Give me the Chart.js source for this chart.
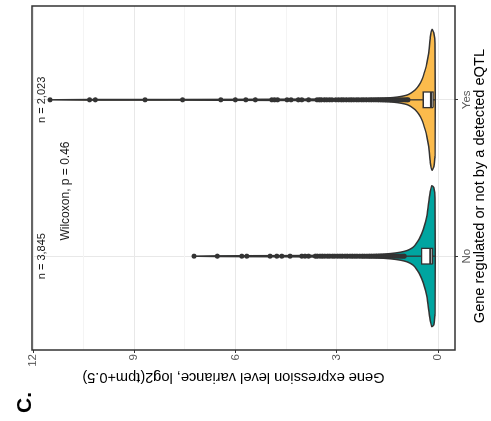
<!DOCTYPE html>
<html>
<head>
<meta charset="utf-8">
<script src="https://cdn.jsdelivr.net/npm/chart.js@4.4.1/dist/chart.umd.min.js"></script>
<style>
  html, body { margin: 0; padding: 0; background: #fff; }
  body { width: 491px; height: 421px; overflow: hidden; position: relative; }
  /* the figure is printed turned a quarter turn counter-clockwise */
  #wrap { position: absolute; left: 35px; top: -35px; width: 421px; height: 491px; transform: rotate(-90deg); }
</style>
</head>
<body>
<div id="wrap"><canvas id="chart" width="421" height="491"></canvas></div>
<script>
const groups = ["No", "Yes"];
const groupCounts = ["n = 3,845", "n = 2,023"];
const groupColors = ["#00A5A0", "#FBBB4C"];
const valueTicks = [0, 1.5, 3, 4.5, 6, 7.5, 9, 10.5, 12];
const testLabel = "Wilcoxon, p = 0.46";

// violin outline: value -> half width (group units)
const violinValuesNo = [0.09, 0.13, 0.19, 0.25, 0.33, 0.44, 0.56, 0.65, 0.74, 0.83, 0.92, 1.1, 1.4, 1.8, 2.4, 3.2, 4.2, 5.5, 6.6, 7.23];
const violinHalfNo = [0.37, 0.44, 0.45, 0.39, 0.26, 0.17, 0.11, 0.08, 0.058, 0.045, 0.036, 0.026, 0.017, 0.011, 0.008, 0.006, 0.004, 0.003, 0.002, 0];
const violinValuesYes = [0.09, 0.13, 0.18, 0.23, 0.28, 0.33, 0.385, 0.48, 0.58, 0.68, 0.79, 0.89, 1.0, 1.2, 1.5, 2.0, 2.6, 3.4, 4.5, 6.0, 8.0, 10.3, 11.5];
const violinHalfYes = [0.36, 0.43, 0.45, 0.40, 0.30, 0.24, 0.19, 0.128, 0.09, 0.064, 0.045, 0.033, 0.026, 0.018, 0.012, 0.008, 0.006, 0.005, 0.004, 0.003, 0.002, 0.002, 0];

// box stats: lower whisker, q1, median, q3, upper whisker
const boxNo = [0.09, 0.16, 0.23, 0.49, 0.98];
const boxYes = [0.09, 0.15, 0.21, 0.44, 0.87];

const outliersNo = [7.23, 6.54, 5.82, 5.67, 4.98, 4.78, 4.63, 4.39, 4.04, 3.94, 3.84, 3.64, 3.58, 3.50, 3.43, 3.36, 3.28, 3.21, 3.13, 3.06, 2.98, 2.91, 2.84, 2.76, 2.69, 2.61, 2.54, 2.47, 2.40, 2.32, 2.25, 2.18, 2.11, 2.04, 1.97, 1.90, 1.83, 1.76, 1.69, 1.62, 1.55, 1.48, 1.42, 1.35, 1.29, 1.22, 1.16, 1.10, 1.05, 1.00];
const outliersYes = [11.50, 10.33, 10.16, 8.68, 7.57, 6.44, 6.01, 5.70, 5.42, 4.93, 4.85, 4.76, 4.48, 4.36, 4.14, 4.04, 3.84, 3.59, 3.52, 3.46, 3.37, 3.30, 3.22, 3.14, 3.03, 2.95, 2.87, 2.80, 2.72, 2.64, 2.57, 2.50, 2.42, 2.35, 2.27, 2.20, 2.13, 2.05, 1.98, 1.91, 1.84, 1.77, 1.70, 1.63, 1.56, 1.49, 1.42, 1.35, 1.29, 1.22, 1.16, 1.10, 1.04, 0.98, 0.93, 0.89];

const FONT = "'Liberation Sans', Arial, Helvetica, sans-serif";
const INK = "#333333";
const BOX_HALF = 0.05;

function violinPoints(center, values, half) {
  const left = values.map((v, i) => ({ x: center - half[i], y: v }));
  const right = values.map((v, i) => ({ x: center + half[i], y: v })).reverse();
  return [...left, ...right, left[0]];
}

function boxPoints(center, stats) {
  const q1 = stats[1];
  const q3 = stats[3];
  return [
    { x: center - BOX_HALF, y: q1 },
    { x: center + BOX_HALF, y: q1 },
    { x: center + BOX_HALF, y: q3 },
    { x: center - BOX_HALF, y: q3 },
    { x: center - BOX_HALF, y: q1 },
  ];
}

function segment(data, width, order) {
  return {
    data,
    showLine: true,
    borderColor: INK,
    borderWidth: width,
    pointRadius: 0,
    fill: false,
    order,
  };
}

function groupDatasets(index, values, half, stats, outliers) {
  const center = index + 1;
  return [
    {
      data: violinPoints(center, values, half),
      showLine: true,
      fill: "shape",
      backgroundColor: groupColors[index],
      borderColor: INK,
      borderWidth: 1.5,
      tension: 0.2,
      pointRadius: 0,
      order: 5,
    },
    segment([{ x: center, y: stats[0] }, { x: center, y: stats[1] }], 1.3, 4),
    segment([{ x: center, y: stats[3] }, { x: center, y: stats[4] }], 1.3, 4),
    {
      data: boxPoints(center, stats),
      showLine: true,
      fill: "shape",
      backgroundColor: "#ffffff",
      borderColor: INK,
      borderWidth: 1.3,
      tension: 0,
      pointRadius: 0,
      order: 2,
    },
    segment([{ x: center - BOX_HALF, y: stats[2] }, { x: center + BOX_HALF, y: stats[2] }], 2.2, 1),
    {
      data: outliers.map((v) => ({ x: center, y: v })),
      showLine: false,
      pointRadius: 2.5,
      pointBackgroundColor: INK,
      pointBorderWidth: 0,
      order: 3,
    },
  ];
}

const panelBorder = {
  id: "panelBorder",
  afterDatasetsDraw(chart) {
    const { ctx, chartArea: a } = chart;
    ctx.save();
    ctx.strokeStyle = INK;
    ctx.lineWidth = 1.5;
    ctx.strokeRect(a.left, a.top, a.right - a.left, a.bottom - a.top);
    ctx.restore();
  },
};

const annotations = {
  id: "annotations",
  afterDatasetsDraw(chart) {
    const { ctx, scales } = chart;
    ctx.save();
    ctx.fillStyle = "#1a1a1a";
    ctx.textBaseline = "middle";
    ctx.textAlign = "center";
    ctx.font = `11px ${FONT}`;
    groupCounts.forEach((label, i) => {
      ctx.fillText(label, scales.x.getPixelForValue(i + 1), scales.y.getPixelForValue(11.73));
    });
    ctx.textAlign = "left";
    ctx.font = `12px ${FONT}`;
    ctx.fillText(testLabel, scales.x.getPixelForValue(1.1), scales.y.getPixelForValue(11.03));
    // panel tag
    ctx.fillStyle = "#000";
    ctx.font = `bold 21px ${FONT}`;
    ctx.textBaseline = "alphabetic";
    ctx.fillText("C.", 8, 31);
    ctx.restore();
  },
};

new Chart(document.getElementById("chart"), {
  type: "scatter",
  data: {
    datasets: [
      ...groupDatasets(0, violinValuesNo, violinHalfNo, boxNo, outliersNo),
      ...groupDatasets(1, violinValuesYes, violinHalfYes, boxYes, outliersYes),
    ],
  },
  options: {
    responsive: false,
    animation: false,
    events: [],
    layout: { padding: { top: 32, right: 6, left: 0, bottom: 0 } },
    plugins: { legend: { display: false }, tooltip: { enabled: false } },
    scales: {
      x: {
        type: "linear",
        min: 0.4,
        max: 2.6,
        afterBuildTicks(scale) {
          scale.ticks = groups.map((g, i) => ({ value: i + 1 }));
        },
        afterFit(scale) {
          scale.height = 36;
        },
        ticks: {
          autoSkip: false,
          maxRotation: 0,
          padding: 1.5,
          color: "#555555",
          font: { family: FONT, size: 11.5 },
          callback: (value) => groups[Math.round(value) - 1],
        },
        grid: { color: "#E8E8E8", tickColor: INK, tickLength: 3, lineWidth: 1 },
        border: { display: false },
        title: {
          display: true,
          // trailing spaces nudge the centred title left, as in the source figure
          text: "Gene regulated or not by a detected eQTL    ",
          color: "#000",
          font: { family: FONT, size: 14.6 },
          padding: { top: 0, bottom: 2 },
        },
      },
      y: {
        type: "linear",
        min: -0.5,
        max: 12.03,
        afterBuildTicks(scale) {
          scale.ticks = valueTicks.map((v) => ({ value: v }));
        },
        afterFit(scale) {
          scale.width = 71;
        },
        ticks: {
          autoSkip: false,
          padding: 1,
          color: "#555555",
          font: { family: FONT, size: 11.5 },
          callback: (value) => (value % 3 === 0 ? String(value) : ""),
        },
        grid: {
          color: (ctx) => (ctx.tick && ctx.tick.value % 3 === 0 ? "#E8E8E8" : "#F4F4F4"),
          tickColor: (ctx) => (ctx.tick && ctx.tick.value % 3 === 0 ? INK : "rgba(0,0,0,0)"),
          tickLength: 3,
          lineWidth: 1,
        },
        border: { display: false },
        title: {
          display: true,
          // leading spaces nudge the centred title toward the top, as in the source figure
          text: "     Gene expression level variance, log2(tpm+0.5)",
          color: "#000",
          font: { family: FONT, size: 14.6 },
          padding: { top: 35, bottom: 0 },
        },
      },
    },
  },
  plugins: [panelBorder, annotations],
});
</script>
</body>
</html>
